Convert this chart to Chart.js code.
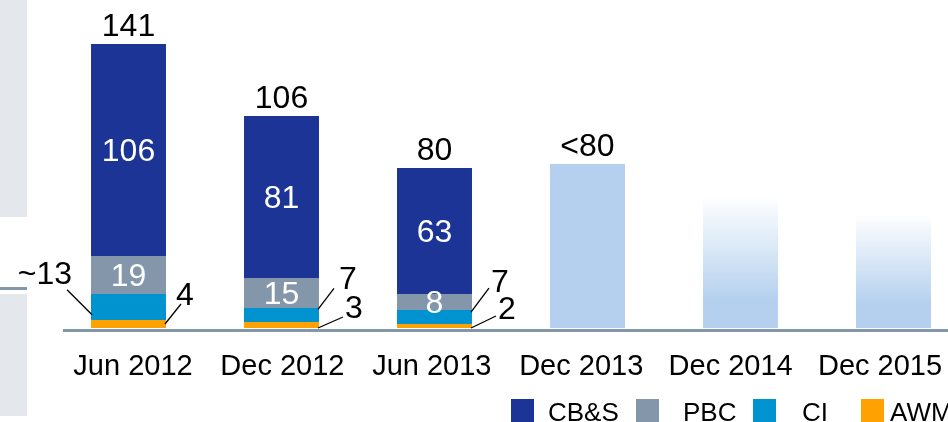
<!DOCTYPE html>
<html><head><meta charset="utf-8">
<script src="https://cdn.jsdelivr.net/npm/chart.js@4/dist/chart.umd.min.js"></script>
<style>
html,body{margin:0;padding:0;background:#fff;overflow:hidden;width:948px;height:422px}
#wrap{position:absolute;left:0;top:0;width:1000px;height:422px}
canvas{display:block}
</style></head><body>
<div id="wrap"><canvas id="c" width="1000" height="422"></canvas></div>
<script>
// ---- data ----
const categories = ['Jun 2012','Dec 2012','Jun 2013','Dec 2013','Dec 2014','Dec 2015'];
const cbsValues = [106, 81, 63, null, null, null];
const pbcValues = [19, 15, 8, null, null, null];
const ciValues = [13, 7, 7, null, null, null];
const awmValues = [4, 3, 2, null, null, null];
const targetValues = [null, null, null, 82, 66, 57];
const totalLabels = ['141', '106', '80', '<80', '', ''];
const seriesNames = ['CB&S', 'PBC', 'CI', 'AWM'];

// ---- style ----
const FONT = '"Liberation Sans", Arial, sans-serif';
const COLORS = ['#1b3496', '#8497aa', '#0093d0', '#ffa100'];
const TARGET = '#b4d0ee';

// dataset indices (stack order bottom -> top)
const DS_AWM = 0, DS_CI = 1, DS_PBC = 2, DS_CBS = 3, DS_TARGET = 4;

// annotations with leader lines
const annotations = [
  {ds: DS_CI,  i: 0, side: 'left',  f: 0.8,  prefix: '~', line: [-25, -25], txt: [5, -6]},
  {ds: DS_AWM, i: 0, side: 'right', f: 0.5,  prefix: '',  line: [16, -20],  txt: [-5, 1]},
  {ds: DS_CI,  i: 1, side: 'right', f: 0.1,  prefix: '',  line: [16, -21],  txt: [5, 1]},
  {ds: DS_AWM, i: 1, side: 'right', f: 1.0,  prefix: '',  line: [25, -11],  txt: [2, 1]},
  {ds: DS_CI,  i: 2, side: 'right', f: 0.15, prefix: '',  line: [18, -24],  txt: [2, 4]},
  {ds: DS_AWM, i: 2, side: 'right', f: 1.0,  prefix: '',  line: [25, -12],  txt: [2, 3]}
];
const legendBoxX = [511, 636, 753, 861];
const legendTextX = [548, 683, 802, 890];

function targetColor(ctx) {
  if (ctx.type !== 'data') return TARGET;
  if (ctx.dataIndex <= 3) return TARGET;
  const chart = ctx.chart;
  if (!chart.chartArea || !chart.scales.y) return TARGET;
  const y = chart.scales.y;
  const top = y.getPixelForValue(ctx.raw);
  const bot = y.getPixelForValue(0);
  const g = chart.ctx.createLinearGradient(0, top, 0, bot);
  g.addColorStop(0, 'rgba(180,208,238,0)');
  g.addColorStop(0.8, 'rgba(180,208,238,1)');
  g.addColorStop(1, 'rgba(180,208,238,1)');
  return g;
}

const decor = {
  id: 'decor',
  beforeDraw(chart) {
    const c = chart.ctx;
    c.save();
    c.fillStyle = '#e4e7ec';
    c.fillRect(0, 0, 27, 217);
    c.fillRect(0, 294, 27, 122);
    c.fillStyle = '#8497aa';
    c.fillRect(0, 287, 27, 3);
    c.restore();
  },
  afterDatasetsDraw(chart) {
    const c = chart.ctx;
    const y0 = chart.scales.y.getPixelForValue(0);
    c.save();
    // axis line
    c.fillStyle = '#8497aa';
    c.fillRect(63, y0 + 1, chart.width, 3);

    // inner labels (CB&S, PBC)
    c.font = '32px ' + FONT;
    c.textAlign = 'center';
    c.textBaseline = 'middle';
    c.fillStyle = '#ffffff';
    [DS_CBS, DS_PBC].forEach(d => {
      const meta = chart.getDatasetMeta(d);
      meta.data.forEach((el, i) => {
        const v = chart.data.datasets[d].data[i];
        if (v == null) return;
        c.fillText(String(v), el.x, (el.y + el.base) / 2 + 2);
      });
    });

    // totals
    c.fillStyle = '#000';
    c.textBaseline = 'alphabetic';
    categories.forEach((cat, i) => {
      let top = Infinity, x = null;
      chart.data.datasets.forEach((ds, d) => {
        if (ds.data[i] == null) return;
        const el = chart.getDatasetMeta(d).data[i];
        if (el.y < top) { top = el.y; x = el.x; }
      });
      if (x !== null && totalLabels[i]) c.fillText(totalLabels[i], x, top - 8);
    });

    // leader-line annotations
    c.strokeStyle = '#000';
    c.lineWidth = 1.3;
    annotations.forEach(a => {
      const el = chart.getDatasetMeta(a.ds).data[a.i];
      const v = chart.data.datasets[a.ds].data[a.i];
      const half = el.width / 2;
      const ax = a.side === 'left' ? el.x - half + 1 : el.x + half - 1;
      const ay = el.y + a.f * (el.base - el.y);
      const ex = ax + a.line[0], ey = ay + a.line[1];
      c.beginPath();
      c.moveTo(ax, ay);
      c.lineTo(ex, ey);
      c.stroke();
      c.textAlign = a.side === 'left' ? 'right' : 'left';
      c.fillText(a.prefix + v, ex + a.txt[0], ey + a.txt[1]);
    });
    c.restore();
  },
  afterDraw(chart) {
    const c = chart.ctx;
    c.save();
    c.font = '26px ' + FONT;
    c.textBaseline = 'alphabetic';
    c.textAlign = 'left';
    seriesNames.forEach((n, k) => {
      c.fillStyle = COLORS[k];
      c.fillRect(legendBoxX[k], 399, 23, 23);
      c.fillStyle = '#000';
      c.fillText(n, legendTextX[k], 421);
    });
    c.restore();
  }
};

new Chart(document.getElementById('c'), {
  type: 'bar',
  data: {
    labels: categories,
    datasets: [
      {label: seriesNames[3], data: awmValues, backgroundColor: COLORS[3]},
      {label: seriesNames[2], data: ciValues, backgroundColor: COLORS[2]},
      {label: seriesNames[1], data: pbcValues, backgroundColor: COLORS[1]},
      {label: seriesNames[0], data: cbsValues, backgroundColor: COLORS[0]},
      {label: 'Target', data: targetValues, backgroundColor: targetColor}
    ]
  },
  options: {
    responsive: false,
    animation: false,
    layout: {padding: {left: 52, right: 30, top: 28, bottom: 0}},
    datasets: {bar: {categoryPercentage: 1, barPercentage: 0.49, borderWidth: 0}},
    plugins: {legend: {display: false}, tooltip: {enabled: false}},
    scales: {
      x: {
        stacked: true,
        display: false
      },
      // label axis: category labels slightly tighter spaced than the bars, as in the slide
      xl: {
        type: 'linear',
        position: 'bottom',
        offset: false,
        beginAtZero: false,
        bounds: 'data',
        min: -0.542,
        max: 5.602,
        grid: {display: false, drawTicks: false, offset: false},
        border: {display: false},
        afterBuildTicks(s) { s.ticks = categories.map((c, k) => ({value: k})); },
        ticks: {
          color: '#000', font: {family: FONT, size: 29}, padding: 22, maxRotation: 0, autoSkip: false,
          callback: (v) => categories[Math.round(v)]
        },
        afterFit(s) { s.height = 94; }
      },
      y: {stacked: true, display: false, min: 0, max: 150}
    }
  },
  plugins: [decor]
});
</script>
</body></html>
